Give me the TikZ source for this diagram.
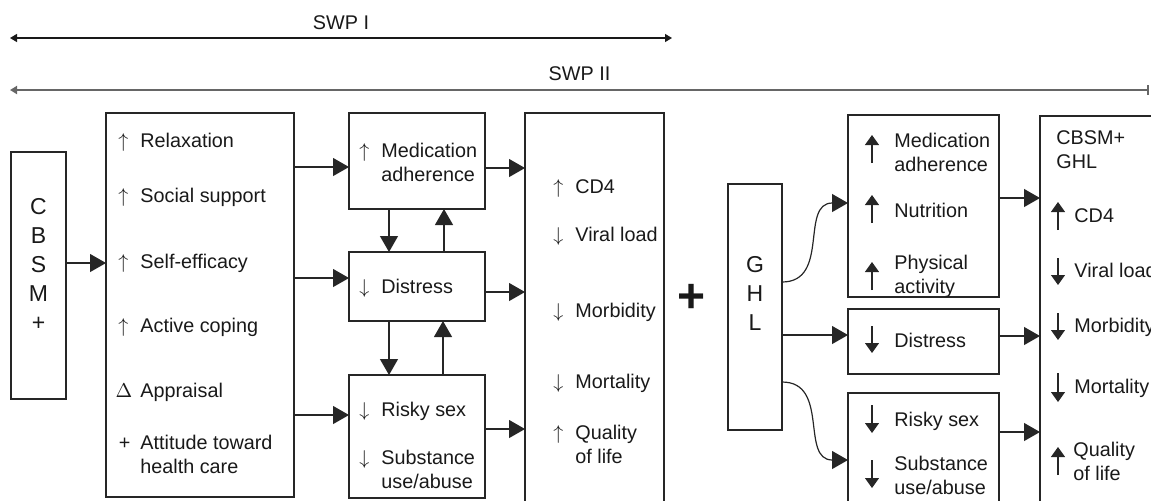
\documentclass[tikz,border=0pt]{standalone}
\usepackage{fontspec}
\setmainfont{Liberation Sans}
\usetikzlibrary{arrows.meta}
\newcommand{\upsym}{\makebox[0pt][r]{$\uparrow$\hspace{6pt}}}
\newcommand{\downsym}{\makebox[0pt][r]{$\downarrow$\hspace{6pt}}}
\newcommand{\deltasym}{\makebox[0pt][r]{$\Delta$\hspace{4pt}}}
\newcommand{\plussym}{\makebox[0pt][r]{+\hspace{5pt}}}
\begin{document}
\begin{tikzpicture}[x=0.5pt, y=-0.5pt, font=\fontsize{9.9}{12}\selectfont, color=black!90,
  box/.style={draw=black!85, line width=0.65pt, rectangle, inner sep=0pt, outer sep=0pt},
  arr/.style={draw=black!85, line width=0.6pt, -{Triangle[length=8pt,width=9pt]}},
  sign/.style={draw=black!85, line width=0.55pt, -{Triangle[length=5pt,width=7pt]}},
  txt/.style={inner sep=0pt, anchor=base west, align=left},
  letters/.style={inner sep=0pt, align=center, font=\fontsize{11.5}{14.5}\selectfont}]
  \path[use as bounding box, clip] (0,0) rectangle (1151,500);

  % spans
  \draw[line width=0.6pt, {Triangle[length=3.5pt,width=4pt]}-{Triangle[length=3.5pt,width=4pt]}]
    (10,38) -- (672,38) node[midway, above=4pt, inner sep=0pt] (swp1) {SWP I};
  \draw[black!60, line width=1pt, {Triangle[length=3.5pt,width=4pt]}-{Bar[width=5pt]}]
    (10,90) -- (1149,90) node[midway, above=4pt, inner sep=0pt, black!90] (swp2) {SWP II};

  % boxes
  \node[box, minimum width=27.5pt, minimum height=123.5pt] (cbsm) at (38.5,275.5) {};
  \node[box, minimum width=94pt, minimum height=192pt] (mech) at (200,305) {};
  \node[box, minimum width=68pt, minimum height=48pt] (med1) at (417,161) {};
  \node[box, minimum width=68pt, minimum height=34.5pt] (dis1) at (417,286.5) {};
  \node[box, minimum width=68pt, minimum height=61.5pt] (risk1) at (417,436.5) {};
  \node[box, minimum width=69.5pt, minimum height=203.5pt] (out1) at (594.5,316.5) {};
  \node[box, minimum width=27pt, minimum height=123pt] (ghl) at (755,307) {};
  \node[box, minimum width=75.5pt, minimum height=91pt] (med2) at (923.5,206) {};
  \node[box, minimum width=75.5pt, minimum height=32.5pt] (dis2) at (923.5,341.5) {};
  \node[box, minimum width=75.5pt, minimum height=63.5pt] (risk2) at (923.5,456.5) {};
  \node[box, minimum width=80pt, minimum height=202pt] (fin) at (1120,318) {};

  \node[letters] (cbsmtxt) at (38.5,264) {C\\B\\S\\M\\+};
  \node[letters] (ghltxt) at (755,293) {G\\H\\L};
  \node (plus) at (692,298) {\fontsize{24}{24}\selectfont\bfseries +};

  % mechanisms
  \node[txt] (relax) at (140,147) {\upsym Relaxation};
  \node[txt] (social) at (140,202) {\upsym Social support};
  \node[txt] (selfeff) at (140,268) {\upsym Self-efficacy};
  \node[txt] (coping) at (140,332) {\upsym Active coping};
  \node[txt] (apprais) at (140,397) {\deltasym Appraisal};
  \node[txt] (attit) at (140,473) {\plussym Attitude toward\\health care};

  \node[txt] (madh1) at (381,181) {\upsym Medication\\adherence};
  \node[txt] (dist1) at (381,293) {\downsym Distress};
  \node[txt] (sex1) at (381,416) {\downsym Risky sex};
  \node[txt] (subst1) at (381,488) {\downsym Substance\\use/abuse};

  % outcomes
  \node[txt] (cd41) at (575,193) {\upsym CD4};
  \node[txt] (viral1) at (575,241) {\downsym Viral load};
  \node[txt] (morb1) at (575,317) {\downsym Morbidity};
  \node[txt] (mort1) at (575,388) {\downsym Mortality};
  \node[txt] (qol1) at (575,463) {\upsym Quality\\of life};

  % GHL part
  \node[txt] (madh2) at (894,171) {Medication\\adherence};
  \node[txt] (nutr2) at (894,217) {Nutrition};
  \node[txt] (phys2) at (894,293) {Physical\\activity};
  \node[txt] (dist2) at (894,347) {Distress};
  \node[txt] (sex2) at (894,426) {Risky sex};
  \node[txt] (subst2) at (894,494) {Substance\\use/abuse};

  \node[txt] (both) at (1056,168) {CBSM+\\GHL};
  \node[txt] (cd42) at (1074,222) {CD4};
  \node[txt] (viral2) at (1074,277) {Viral load};
  \node[txt] (morb2) at (1074,332) {Morbidity};
  \node[txt] (mort2) at (1074,393) {Mortality};
  \node[txt] (qol2) at (1073,480) {Quality\\of life};

  \draw[sign] (872,163) -- (872,135);
  \draw[sign] (872,223) -- (872,195);
  \draw[sign] (872,290) -- (872,262);
  \draw[sign] (872,326) -- (872,353);
  \draw[sign] (872,405) -- (872,433);
  \draw[sign] (872,460) -- (872,488);
  \draw[sign] (1058,230) -- (1058,202);
  \draw[sign] (1058,258) -- (1058,285);
  \draw[sign] (1058,313) -- (1058,340);
  \draw[sign] (1058,373) -- (1058,402);
  \draw[sign] (1058,475) -- (1058,447);

  % connectors
  \draw[arr] (cbsm.east |- 0,263) -- (mech.west |- 0,263);
  \draw[arr] (mech.east |- 0,167) -- (med1.west |- 0,167);
  \draw[arr] (mech.east |- 0,278) -- (dis1.west |- 0,278);
  \draw[arr] (mech.east |- 0,415) -- (risk1.west |- 0,415);
  \draw[arr] (med1.south -| 389,0) -- (dis1.north -| 389,0);
  \draw[arr] (dis1.north -| 444,0) -- (med1.south -| 444,0);
  \draw[arr] (dis1.south -| 389,0) -- (risk1.north -| 389,0);
  \draw[arr] (risk1.north -| 443,0) -- (dis1.south -| 443,0);
  \draw[arr] (med1.east |- 0,168) -- (out1.west |- 0,168);
  \draw[arr] (dis1.east |- 0,292) -- (out1.west |- 0,292);
  \draw[arr] (risk1.east |- 0,429) -- (out1.west |- 0,429);
  \draw[arr] (ghl.east |- 0,282) to[out=0, in=180, looseness=1.2] (med2.west |- 0,203);
  \draw[arr] (ghl.east |- 0,335) -- (dis2.west |- 0,335);
  \draw[arr] (ghl.east |- 0,382) to[out=0, in=180, looseness=1.2] (risk2.west |- 0,460);
  \draw[arr] (med2.east |- 0,198) -- (fin.west |- 0,198);
  \draw[arr] (dis2.east |- 0,336) -- (fin.west |- 0,336);
  \draw[arr] (risk2.east |- 0,432) -- (fin.west |- 0,432);
\end{tikzpicture}
\end{document}
